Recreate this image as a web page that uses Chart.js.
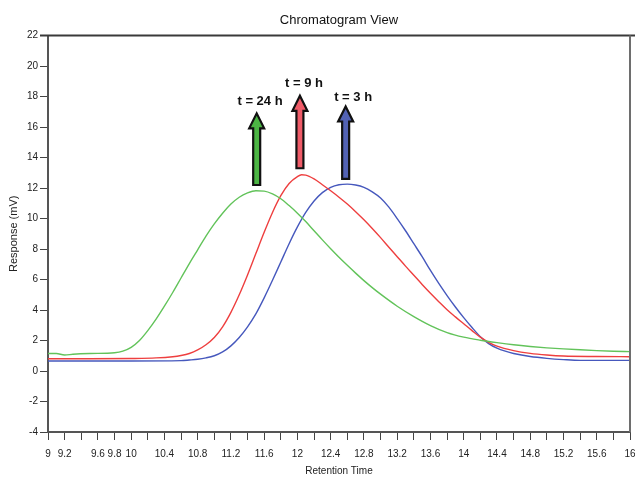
<!DOCTYPE html>
<html>
<head>
<meta charset="utf-8">
<script src="https://cdn.jsdelivr.net/npm/chart.js@4/dist/chart.umd.min.js"></script>
<style>
  html, body { margin: 0; padding: 0; background: #fff; }
  #wrap { width: 635px; height: 478px; }
</style>
</head>
<body>
<div id="wrap"><canvas id="c" width="635" height="478"></canvas></div>
<script>
// ---- data ----
const t24Times  = [9.0, 9.1, 9.2, 9.3, 9.5, 9.8, 9.9, 10.0, 10.1, 10.2, 10.3, 10.4, 10.5, 10.6, 10.7, 10.8, 10.9, 11.0, 11.1, 11.2, 11.3, 11.4, 11.5, 11.6, 11.7, 11.8, 11.9, 12.0, 12.1, 12.2, 12.3, 12.4, 12.5, 12.6, 12.7, 12.8, 12.9, 13.0, 13.2, 13.4, 13.6, 13.8, 14.0, 14.2, 14.4, 14.6, 14.8, 15.0, 15.2, 15.4, 15.6, 15.8, 16.0];
const t24Values = [1.15, 1.15, 1.05, 1.1, 1.15, 1.2, 1.3, 1.55, 2.0, 2.65, 3.4, 4.25, 5.15, 6.1, 7.05, 7.95, 8.85, 9.65, 10.35, 10.95, 11.4, 11.68, 11.82, 11.8, 11.62, 11.3, 10.85, 10.35, 9.8, 9.2, 8.6, 8.02, 7.46, 6.93, 6.42, 5.93, 5.47, 5.04, 4.25, 3.57, 2.98, 2.52, 2.22, 2.02, 1.86, 1.72, 1.61, 1.52, 1.45, 1.39, 1.34, 1.3, 1.27];

const t9Times  = [9.0, 9.5, 10.0, 10.3, 10.5, 10.6, 10.7, 10.8, 10.9, 11.0, 11.1, 11.2, 11.3, 11.4, 11.5, 11.6, 11.7, 11.8, 11.9, 12.0, 12.05, 12.1, 12.2, 12.3, 12.4, 12.5, 12.6, 12.7, 12.8, 12.9, 13.0, 13.1, 13.2, 13.3, 13.4, 13.5, 13.6, 13.7, 13.8, 13.9, 14.0, 14.1, 14.2, 14.3, 14.4, 14.6, 14.8, 15.0, 15.2, 15.6, 16.0];
const t9Values = [0.8, 0.8, 0.82, 0.86, 0.94, 1.02, 1.15, 1.38, 1.72, 2.2, 2.9, 3.85, 5.0, 6.3, 7.7, 9.1, 10.4, 11.5, 12.3, 12.75, 12.87, 12.85, 12.6, 12.22, 11.82, 11.4, 10.95, 10.45, 9.92, 9.35, 8.75, 8.12, 7.5, 6.88, 6.28, 5.68, 5.1, 4.55, 4.02, 3.55, 3.1, 2.65, 2.22, 1.88, 1.63, 1.34, 1.16, 1.05, 0.98, 0.95, 0.94];

const t3Times  = [9.0, 10.0, 10.6, 10.7, 10.8, 10.9, 11.0, 11.1, 11.2, 11.3, 11.4, 11.5, 11.6, 11.7, 11.8, 11.9, 12.0, 12.1, 12.2, 12.3, 12.4, 12.5, 12.6, 12.7, 12.8, 12.9, 13.0, 13.1, 13.2, 13.3, 13.4, 13.5, 13.6, 13.7, 13.8, 13.9, 14.0, 14.1, 14.2, 14.3, 14.4, 14.5, 14.6, 14.8, 15.0, 15.2, 15.4, 16.0];
const t3Values = [0.66, 0.66, 0.68, 0.72, 0.77, 0.86, 1.0, 1.25, 1.65, 2.2, 2.9, 3.75, 4.8, 5.95, 7.15, 8.35, 9.45, 10.4, 11.15, 11.7, 12.05, 12.22, 12.26, 12.2, 12.05, 11.75, 11.35, 10.75, 10.0, 9.2, 8.35, 7.5, 6.6, 5.75, 4.95, 4.2, 3.5, 2.85, 2.25, 1.8, 1.5, 1.3, 1.15, 0.95, 0.83, 0.75, 0.7, 0.7];

const xTickLabels = [9, 9.2, 9.6, 9.8, 10, 10.4, 10.8, 11.2, 11.6, 12, 12.4, 12.8, 13.2, 13.6, 14, 14.4, 14.8, 15.2, 15.6, 16];

// arrow annotations (data units)
const arrowLabels = ['t = 24 h', 't = 9 h', 't = 3 h'];
const arrowTimes  = [11.51, 12.03, 12.58];
const arrowBase   = [12.2, 13.3, 12.6];
const arrowTip    = [16.9, 18.05, 17.35];
const labelTimes  = [11.55, 12.08, 12.67];
const labelLevels = [17.66, 18.84, 17.92];

const seriesColors = ['#62c35a', '#ee3f3f', '#4658bd'];
const arrowFills   = ['#4cb544', '#ef5b68', '#5262b4'];

const toPts = (ts, vs) => ts.map((t, i) => ({x: t, y: vs[i]}));

const frame = {
  id: 'frame',
  afterDatasetsDraw(chart) {
    const {ctx, chartArea: a} = chart;
    ctx.save();
    ctx.strokeStyle = '#3a3a3a';
    ctx.lineWidth = 2;
    ctx.beginPath();
    ctx.moveTo(a.left - 8, a.top);
    ctx.lineTo(a.right + 5, a.top);
    ctx.stroke();
    ctx.strokeStyle = '#6e6e6e';
    ctx.beginPath();
    ctx.moveTo(a.right, a.top);
    ctx.lineTo(a.right, a.bottom);
    ctx.stroke();
    ctx.restore();
  }
};

const arrows = {
  id: 'arrows',
  afterDatasetsDraw(chart) {
    const {ctx, scales: {x, y}} = chart;
    ctx.save();
    for (let i = 0; i < arrowLabels.length; i++) {
      const px = x.getPixelForValue(arrowTimes[i]);
      const yb = y.getPixelForValue(arrowBase[i]);
      const yt = y.getPixelForValue(arrowTip[i]);
      const sw = 3.5, hw = 7.5, hl = 15;
      ctx.beginPath();
      ctx.moveTo(px - sw, yb);
      ctx.lineTo(px - sw, yt + hl);
      ctx.lineTo(px - hw, yt + hl);
      ctx.lineTo(px, yt);
      ctx.lineTo(px + hw, yt + hl);
      ctx.lineTo(px + sw, yt + hl);
      ctx.lineTo(px + sw, yb);
      ctx.closePath();
      ctx.fillStyle = arrowFills[i];
      ctx.fill();
      ctx.lineWidth = 2.2;
      ctx.lineJoin = 'miter';
      ctx.strokeStyle = '#111';
      ctx.stroke();

      ctx.fillStyle = '#111';
      ctx.font = 'bold 13px "Liberation Sans", Arial, sans-serif';
      ctx.textAlign = 'center';
      ctx.textBaseline = 'middle';
      ctx.fillText(arrowLabels[i], x.getPixelForValue(labelTimes[i]), y.getPixelForValue(labelLevels[i]));
    }
    ctx.restore();
  }
};

const tickFont = {family: '"Liberation Sans Narrow", "Liberation Sans", Arial, sans-serif', size: 10};

new Chart(document.getElementById('c'), {
  type: 'line',
  data: {
    datasets: [
      {label: 't = 24 h', data: toPts(t24Times, t24Values), borderColor: seriesColors[0]},
      {label: 't = 9 h',  data: toPts(t9Times, t9Values),   borderColor: seriesColors[1]},
      {label: 't = 3 h',  data: toPts(t3Times, t3Values),   borderColor: seriesColors[2]}
    ].map(d => Object.assign(d, {borderWidth: 1.4, pointRadius: 0, fill: false, cubicInterpolationMode: 'monotone'}))
  },
  options: {
    responsive: false,
    animation: false,
    layout: {padding: {left: 0, right: 5, top: 0, bottom: 0}},
    plugins: {
      legend: {display: false},
      tooltip: {enabled: false},
      title: {
        display: true,
        text: 'Chromatogram View',
        fullSize: false,
        color: '#111',
        font: {family: '"Liberation Sans", Arial, sans-serif', size: 13, weight: 'normal'},
        padding: {top: 13, bottom: 7}
      }
    },
    scales: {
      x: {
        type: 'linear',
        min: 9, max: 16,
        border: {color: '#555', width: 2},
        grid: {drawOnChartArea: false, drawTicks: true, tickLength: 8, color: '#444', lineWidth: 1},
        ticks: {
          stepSize: 0.2, autoSkip: false, maxRotation: 0, padding: 8,
          color: '#222', font: tickFont,
          callback: (v) => {
            const r = Math.round(v * 10) / 10;
            return xTickLabels.some(l => Math.abs(l - r) < 1e-6) ? String(r) : '';
          }
        },
        title: {display: true, text: 'Retention Time', color: '#222', font: tickFont, padding: {top: 2, bottom: 1}},
        afterFit: (s) => { s.paddingLeft = 0; s.paddingRight = 0; s.height = 46; }
      },
      y: {
        min: -4, max: 22,
        border: {color: '#555', width: 2},
        grid: {drawOnChartArea: false, drawTicks: true, tickLength: 8, color: '#444', lineWidth: 1},
        ticks: {stepSize: 2, padding: 2, color: '#222', font: tickFont},
        title: {display: true, text: 'Response (mV)', color: '#222', font: {family: '"Liberation Sans", Arial, sans-serif', size: 11}, padding: {top: 7, bottom: 0}},
        afterFit: (s) => { s.width = 48; }
      }
    }
  },
  plugins: [frame, arrows]
});
</script>
</body>
</html>
